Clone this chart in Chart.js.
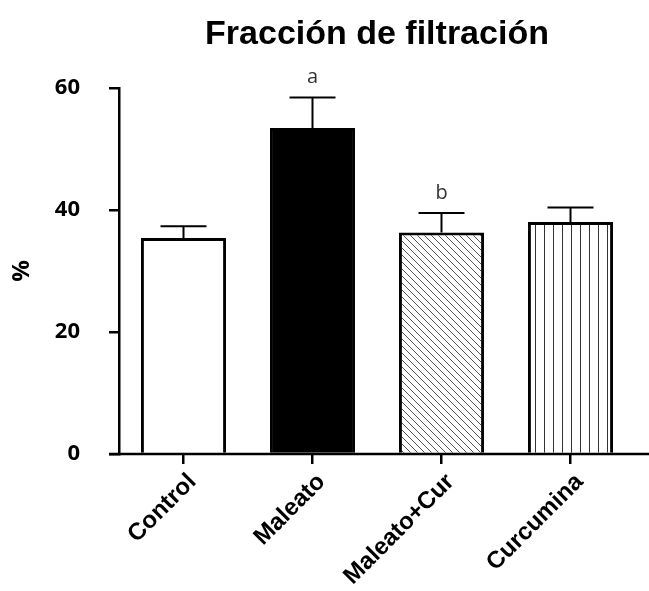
<!DOCTYPE html>
<html>
<head>
<meta charset="utf-8">
<script src="https://cdn.jsdelivr.net/npm/chart.js@4/dist/chart.umd.min.js"></script>
<style>
  html, body { margin: 0; padding: 0; background: #fff; }
  canvas { display: block; }
</style>
</head>
<body>
<canvas id="bars" width="649" height="591"></canvas>
<script>
// groups on the x axis
const groups = ['Control', 'Maleato', 'Maleato+Cur', 'Curcumina'];
// mean values (%)
const means = [35.4, 53.4, 36.3, 38.0];
// upper error (SEM)
const errors = [1.9, 5.0, 3.2, 2.4];
// significance letters above the bars
const marks = ['', 'a', 'b', ''];
// y axis ticks
const yTicks = [0, 20, 40, 60];

// hatch fills
function diagonalFill() {
    const s = 7;
    const c = document.createElement('canvas');
    c.width = s; c.height = s;
    const g = c.getContext('2d');
    g.fillStyle = '#fff';
    g.fillRect(0, 0, s, s);
    g.strokeStyle = '#555';
    g.lineWidth = 1;
    for (let k = -1; k <= 1; k++) {
        g.beginPath();
        g.moveTo(k * s, 0);
        g.lineTo(k * s + s, s);
        g.stroke();
    }
    return g.createPattern(c, 'repeat');
}

function verticalFill() {
    const c = document.createElement('canvas');
    c.width = 9; c.height = 4;
    const g = c.getContext('2d');
    g.fillStyle = '#fff';
    g.fillRect(0, 0, 9, 4);
    g.fillStyle = '#333';
    g.fillRect(4, 0, 1, 4);
    return g.createPattern(c, 'repeat');
}

// error bars, letters and the long x baseline
const extras = {
    id: 'extras',
    afterDatasetsDraw(chart) {
        const ctx = chart.ctx;
        const y = chart.scales.y;
        const meta = chart.getDatasetMeta(0);
        ctx.save();
        // baseline
        ctx.strokeStyle = '#000';
        ctx.lineWidth = 2.5;
        ctx.beginPath();
        ctx.moveTo(chart.chartArea.left - 10, y.getPixelForValue(0));
        ctx.lineTo(chart.width, y.getPixelForValue(0));
        ctx.stroke();

        ctx.lineWidth = 2;
        meta.data.forEach((bar, i) => {
            const top = y.getPixelForValue(means[i] + errors[i]);
            ctx.beginPath();
            ctx.moveTo(bar.x, bar.y);
            ctx.lineTo(bar.x, top);
            ctx.moveTo(bar.x - 23, top);
            ctx.lineTo(bar.x + 23, top);
            ctx.stroke();
            if (marks[i]) {
                ctx.fillStyle = '#333';
                ctx.font = '20px "Open Sans"';
                ctx.textAlign = 'center';
                ctx.textBaseline = 'bottom';
                ctx.fillText(marks[i], bar.x, top - 10);
            }
        });
        ctx.restore();
    }
};

new Chart(document.getElementById('bars'), {
    type: 'bar',
    data: {
        labels: groups,
        datasets: [{
            data: means,
            backgroundColor: ['#ffffff', '#000000', diagonalFill(), verticalFill()],
            borderColor: '#000',
            borderWidth: 3,
            borderSkipped: 'bottom',
            barPercentage: 0.66,
            categoryPercentage: 1
        }]
    },
    options: {
        responsive: false,
        animation: false,
        layout: { padding: { top: 0, right: 14, bottom: 0, left: 0 } },
        plugins: {
            legend: { display: false },
            tooltip: { enabled: false },
            title: {
                display: true,
                text: 'Fracción de filtración',
                fullSize: false,
                color: '#000',
                font: { family: '"Liberation Sans", Arial', size: 34, weight: 'bold' },
                padding: { top: 14, bottom: 33 }
            }
        },
        scales: {
            x: {
                afterFit(scale) { scale.height = 137; },
                border: { display: false },
                grid: {
                    offset: false,
                    drawOnChartArea: false,
                    drawTicks: true,
                    tickLength: 10,
                    color: '#000',
                    lineWidth: 2.5
                },
                ticks: {
                    minRotation: 45,
                    maxRotation: 45,
                    padding: 4,
                    labelOffset: 9,
                    color: '#000',
                    font: { family: '"Liberation Sans", Arial', size: 24, weight: 'bold' }
                }
            },
            y: {
                min: 0,
                max: 60,
                afterFit(scale) { scale.width = 119; },
                afterBuildTicks(scale) { scale.ticks = yTicks.map(v => ({ value: v })); },
                border: { display: true, color: '#000', width: 2.5 },
                grid: {
                    drawOnChartArea: false,
                    drawTicks: true,
                    tickLength: 10,
                    color: '#000',
                    lineWidth: 2.5
                },
                ticks: {
                    padding: 29,
                    color: '#000',
                    font: { family: '"Open Sans"', size: 22, weight: 'bold' }
                },
                title: {
                    display: true,
                    text: '%',
                    color: '#000',
                    padding: 8,
                    font: { family: '"Open Sans"', size: 24, weight: 'bold' }
                }
            }
        }
    },
    plugins: [extras]
});
</script>
</body>
</html>
